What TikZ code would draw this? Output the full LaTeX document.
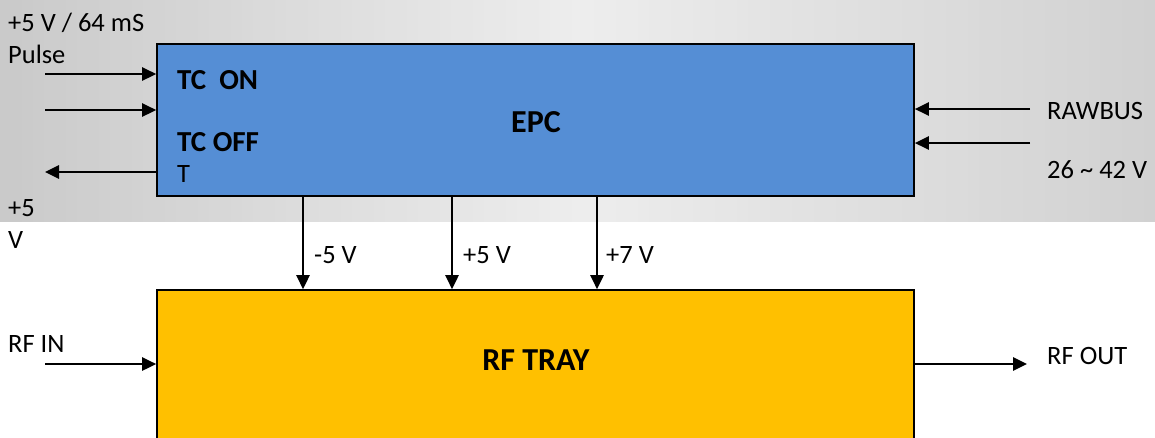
\documentclass[tikz,border=0pt]{standalone}
\usepackage{fontspec}
\setmainfont{Carlito}
\usetikzlibrary{arrows.meta}
\definecolor{epcblue}{HTML}{558ED5}
\definecolor{traygold}{HTML}{FFC000}
\tikzset{
  lbl/.style={anchor=base west, inner sep=0pt, font=\fontsize{26.5}{31}\selectfont},
  blbl/.style={lbl, font=\fontsize{29}{34}\selectfont\bfseries},
  tlbl/.style={anchor=center, inner sep=0pt, font=\fontsize{32}{38}\selectfont\bfseries},
  sig/.style={line width=2.6pt, -{Triangle[length=14pt,width=13pt]}},
  box/.style={draw=black, line width=1.6pt, inner sep=0pt}
}
\begin{document}
\begin{tikzpicture}[x=1pt,y=-1pt]
\useasboundingbox (0,0) rectangle (1155,437);
\clip (0,0) rectangle (1155,437);
\fill[white] (0,0) rectangle (1155,437);
% gray gradient band
\foreach \i in {0,...,104} {
  \pgfmathsetmacro{\xa}{\i*11}
  \pgfmathsetmacro{\t}{(\i+0.5)*11}
  \pgfmathsetmacro{\p}{\t<577.5 ? 21-14*(\t/577.5) : 7+11*((\t-577.5)/577.5)}
  \fill[black!\p] (\xa,0) rectangle (\xa+11.6,222);
}
% boxes
\node[box, fill=epcblue, minimum width=757pt, minimum height=152pt] (epc) at (535.5,120) {};
\node[box, fill=traygold, minimum width=757pt, minimum height=180pt] (tray) at (535.5,380) {};
\node[tlbl] (epct) at (536,122) {EPC};
\node[tlbl] (trayt) at (536,360) {RF TRAY};
% left inputs of EPC
\coordinate (i1) at (45,74);
\coordinate (i2) at (45,110);
\coordinate (o1) at (45,172);
\draw[sig] (i1) -- (i1 -| epc.west);
\draw[sig] (i2) -- (i2 -| epc.west);
\draw[sig] (o1 -| epc.west) -- (o1);
% right inputs
\coordinate (r1) at (1030,109);
\coordinate (r2) at (1030,143);
\draw[sig] (r1) -- (r1 -| epc.east);
\draw[sig] (r2) -- (r2 -| epc.east);
% down arrows
\coordinate (d1) at (303,0);
\coordinate (d2) at (452,0);
\coordinate (d3) at (597,0);
\draw[sig] (d1 |- epc.south) -- (d1 |- tray.north);
\draw[sig] (d2 |- epc.south) -- (d2 |- tray.north);
\draw[sig] (d3 |- epc.south) -- (d3 |- tray.north);
% RF in / out
\coordinate (rfi) at (45,364);
\coordinate (rfo) at (1027,364);
\draw[sig] (rfi) -- (rfi -| tray.west);
\draw[sig] (rfo -| tray.east) -- (rfo);
% texts
\node[lbl] (t1) at (8,31) {+5 V / 64 mS};
\node[lbl] (t2) at (8,63) {Pulse};
\node[blbl] (t3) at (177,89) {TC\ \ ON};
\node[blbl] (t4) at (177,151) {TC OFF};
\node[lbl] (t5) at (177,182) {T};
\node[lbl] (t6) at (8,216) {+5};
\node[lbl] (t7) at (8,248) {V};
\node[lbl] (t8) at (1047,119) {RAWBUS};
\node[lbl] (t9) at (1047,178) {26 \textasciitilde{} 42 V};
\node[lbl] (v1) at (314,263) {-5 V};
\node[lbl] (v2) at (463,263) {+5 V};
\node[lbl] (v3) at (606,263) {+7 V};
\node[lbl] (rin) at (8,352) {RF IN};
\node[lbl] (rout) at (1047,364) {RF OUT};
\end{tikzpicture}
\end{document}
